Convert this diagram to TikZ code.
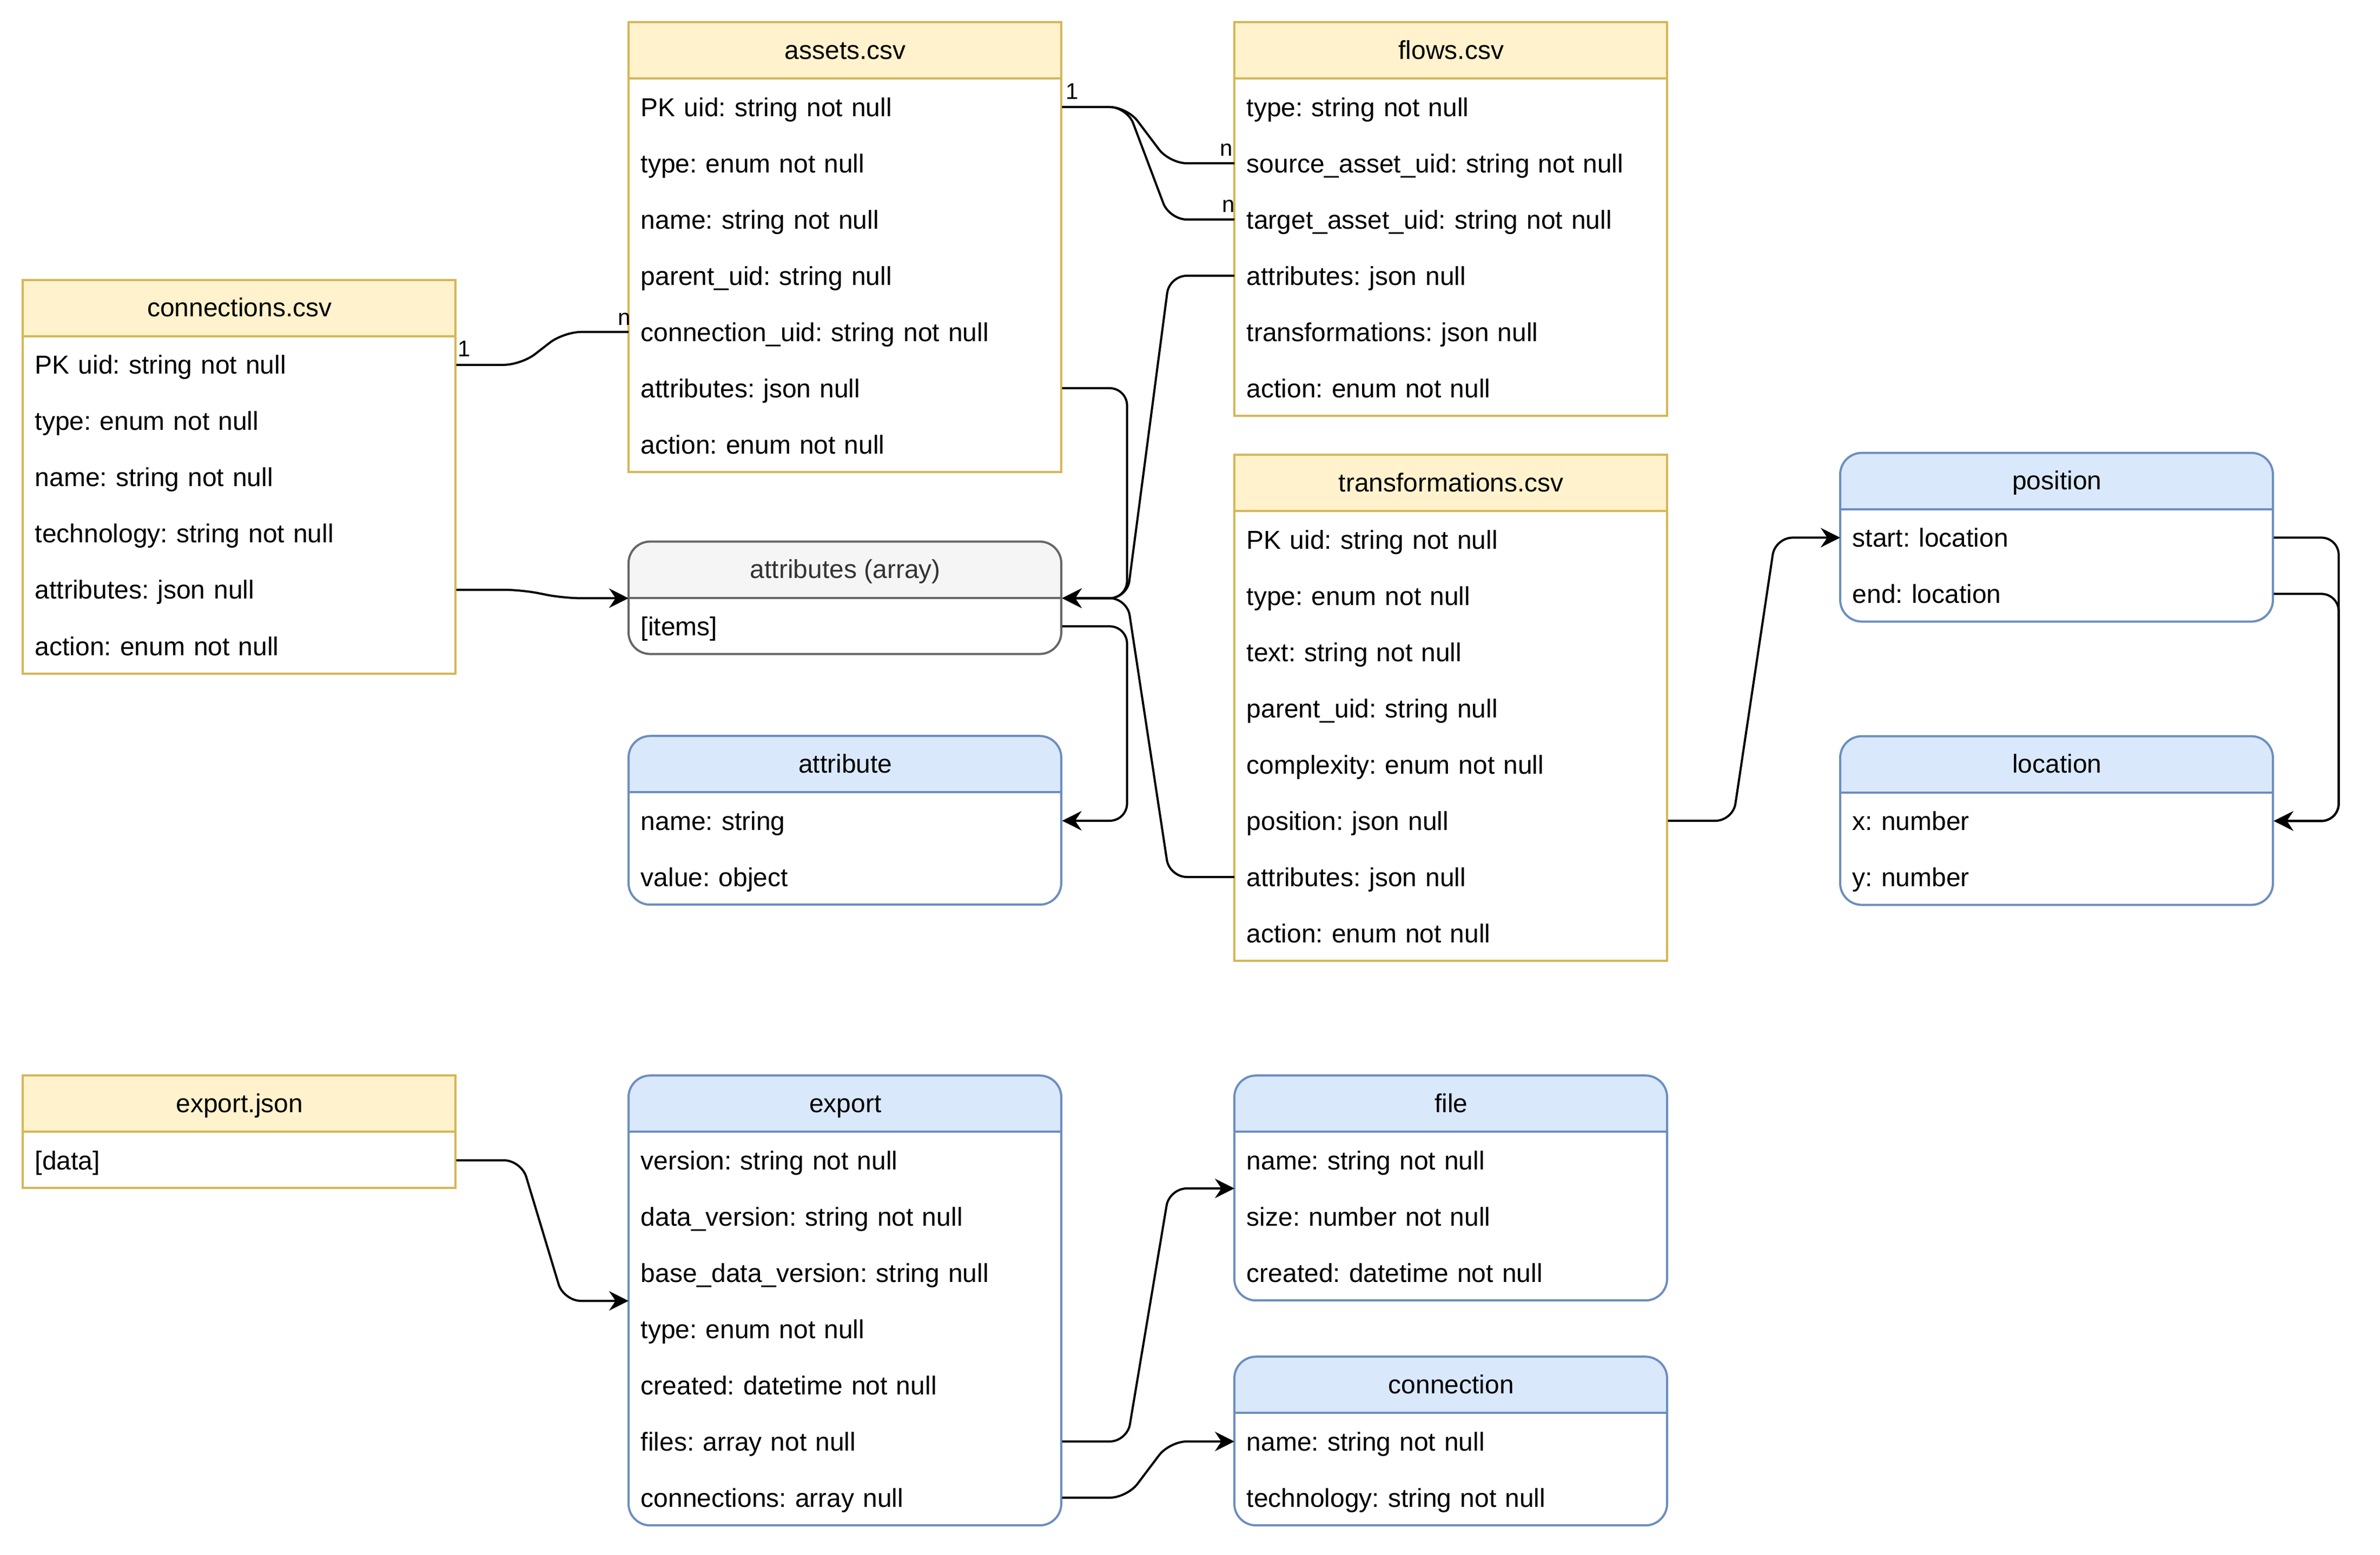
\documentclass[tikz,border=0pt]{standalone}
\usepackage{fontspec}
\setmainfont{Liberation Sans}
\usetikzlibrary{calc,arrows.meta}
\frenchspacing
\definecolor{yelfill}{HTML}{FFF2CC}
\definecolor{yelline}{HTML}{D6B656}
\definecolor{blufill}{HTML}{DAE8FC}
\definecolor{bluline}{HTML}{6C8EBF}
\definecolor{gryfill}{HTML}{F5F5F5}
\definecolor{gryline}{HTML}{666666}
\definecolor{grytext}{HTML}{333333}
\tikzset{
  tabhead/.style={fill=yelfill},
  taboutline/.style={draw=yelline, line width=1pt},
  tabshape/.style={sharp corners},
  tabtxt/.style={text=black},
  yel/.style={tabhead/.style={fill=yelfill}, taboutline/.style={draw=yelline, line width=1pt}, tabshape/.style={sharp corners}, tabtxt/.style={text=black}},
  blu/.style={tabhead/.style={fill=blufill}, taboutline/.style={draw=bluline, line width=1pt}, tabshape/.style={rounded corners=10pt}, tabtxt/.style={text=black}},
  gry/.style={tabhead/.style={fill=gryfill}, taboutline/.style={draw=gryline, line width=1pt}, tabshape/.style={rounded corners=10pt}, tabtxt/.style={text=grytext}},
  hdrtext/.style={tabtxt, minimum width=200pt, minimum height=26pt, inner sep=0pt, text height=7.6pt, text depth=0pt, font=\fontsize{12}{14}\selectfont},
  rowtext/.style={text=black, minimum height=26pt, text width=189pt, inner xsep=5.5pt, inner ysep=0pt, align=left, text height=8.6pt, text depth=0pt, font=\fontsize{12}{14}\selectfont},
  boxnode/.style={minimum width=200pt, inner sep=0pt},
  conn/.style={draw=black, line width=1pt, rounded corners=8pt},
  arr/.style={-{Stealth[length=9pt,width=9pt,inset=3pt]}},
  lbl/.style={font=\fontsize{10.5}{12}\selectfont, inner sep=0pt}
}
% #1 name, #2 kind, #3 x, #4 y, #5 number of rows, #6 title, #7 rows
\newcommand{\ertable}[7]{%
  \begin{scope}[#2]
    \pgfmathsetmacro\tabh{26*(#5+1)}
    \path[tabshape, fill=white] (#3,#4) rectangle ++(200,\tabh);
    \begin{scope}
      \clip (#3,#4) rectangle ++(200,26);
      \path[tabshape, tabhead] (#3,#4) rectangle ++(200,\tabh);
    \end{scope}
    \draw[taboutline] (#3,#4+26) -- ++(200,0);
    \draw[tabshape, taboutline] (#3,#4) rectangle ++(200,\tabh);
    \node[hdrtext, anchor=north west] (#1) at (#3,#4) {#6};
    \node[boxnode, minimum height=\tabh pt, anchor=north west] (#1-box) at (#3,#4) {};
    \foreach \rowtxt [count=\i] in {#7}
      \node[rowtext, anchor=north west] (#1-\i) at (#3,#4+26*\i) {\rowtxt};
  \end{scope}}
\begin{document}
\begin{tikzpicture}[x=1pt, y=-1pt]
\fill[white] (0,0) rectangle (1100,719);
\useasboundingbox (0,0) rectangle (1100,719);

\ertable{connections}{yel}{10.5}{129.5}{6}{connections.csv}{PK uid: string not null, type: enum not null, name: string not null, technology: string not null, attributes: json null, action: enum not null}
\ertable{assets}{yel}{290.5}{10.3}{7}{assets.csv}{PK uid: string not null, type: enum not null, name: string not null, parent\_uid: string null, connection\_uid: string not null, attributes: json null, action: enum not null}
\ertable{flows}{yel}{570.5}{10.3}{6}{flows.csv}{type: string not null, source\_asset\_uid: string not null, target\_asset\_uid: string not null, attributes: json null, transformations: json null, action: enum not null}
\ertable{attrarr}{gry}{290.5}{250.4}{1}{attributes (array)}{{[items]}}
\ertable{attribute}{blu}{290.5}{340.3}{2}{attribute}{name: string, value: object}
\ertable{trans}{yel}{570.5}{210.3}{8}{transformations.csv}{PK uid: string not null, type: enum not null, text: string not null, parent\_uid: string null, complexity: enum not null, position: json null, attributes: json null, action: enum not null}
\ertable{position}{blu}{850.5}{209.4}{2}{position}{start: location, end: location}
\ertable{location}{blu}{850.5}{340.4}{2}{location}{x: number, y: number}
\ertable{exportjson}{yel}{10.5}{497.3}{1}{export.json}{{[data]}}
\ertable{export}{blu}{290.5}{497.3}{7}{export}{version: string not null, data\_version: string not null, base\_data\_version: string null, type: enum not null, created: datetime not null, files: array not null, connections: array null}
\ertable{file}{blu}{570.5}{497.3}{3}{file}{name: string not null, size: number not null, created: datetime not null}
\ertable{connection}{blu}{570.5}{627.3}{2}{connection}{name: string not null, technology: string not null}

% relations
\draw[conn] (assets-1.east) -- ++(30,0) -- ($(flows-2.west)+(-30,0)$) -- (flows-2.west);
\draw[conn] (assets-1.east) -- ++(30,0) -- ($(flows-3.west)+(-30,0)$) -- (flows-3.west);
\draw[conn] (connections-1.east) -- ++(30,0) -- ($(assets-5.west)+(-30,0)$) -- (assets-5.west);
\node[lbl, anchor=base west] (l1) at ($(assets-1.east)+(1.5,-3.6)$) {1};
\node[lbl, anchor=base east] (l2) at ($(flows-2.west)+(-0.5,-3.3)$) {n};
\node[lbl, anchor=base east] (l3) at ($(flows-3.west)+(0.5,-3.3)$) {n};
\node[lbl, anchor=base west] (l4) at ($(connections-1.east)+(0.5,-3.7)$) {1};
\node[lbl, anchor=base east] (l5) at ($(assets-5.west)+(1.2,-3.1)$) {n};

% references to attributes (array)
\draw[conn, arr] (connections-5.east) -- ++(30,0) -- ($(attrarr-box.west)+(-30,0)$) -- (attrarr-box.west);
\draw[conn, arr] (assets-6.east) -- ++(30,0) |- (attrarr-box.east);
\draw[conn, arr] (flows-4.west) -- ++(-30,0) -- ($(attrarr-box.east)+(30,0)$) -- (attrarr-box.east);
\draw[conn, arr] (trans-7.west) -- ++(-30,0) -- ($(attrarr-box.east)+(30,0)$) -- (attrarr-box.east);
\draw[conn, arr] (attrarr-1.east) -- ++(30,0) |- (attribute-box.east);

% position / location
\draw[conn, arr] (trans-6.east) -- ++(30,0) -- ($(position-box.west)+(-30,0)$) -- (position-box.west);
\draw[conn, arr] (position-1.east) -- ++(30,0) |- (location-box.east);
\draw[conn, arr] (position-2.east) -- ++(30,0) |- (location-box.east);

% export
\draw[conn, arr] (exportjson-1.east) -- ++(30,0) -- ($(export-box.west)+(-30,0)$) -- (export-box.west);
\draw[conn, arr] (export-6.east) -- ++(30,0) -- ($(file-box.west)+(-30,0)$) -- (file-box.west);
\draw[conn, arr] (export-7.east) -- ++(30,0) -- ($(connection-box.west)+(-30,0)$) -- (connection-box.west);
\end{tikzpicture}
\end{document}
